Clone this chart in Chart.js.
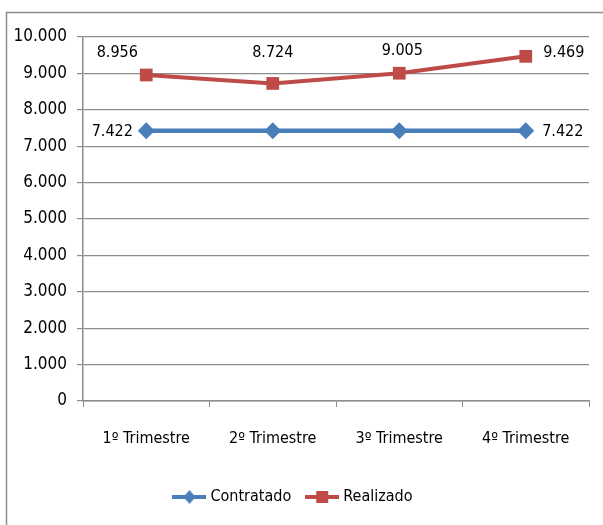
<!DOCTYPE html>
<html>
<head>
<meta charset="utf-8">
<script src="https://cdn.jsdelivr.net/npm/chart.js@4"></script>
<style>
  html, body { margin: 0; padding: 0; background: #fff; }
  #wrap { width: 603px; height: 525px; position: relative; }
</style>
</head>
<body>
<div id="wrap"><canvas id="chart" width="603" height="525"></canvas></div>
<script>
const categories = ["1º Trimestre", "2º Trimestre", "3º Trimestre", "4º Trimestre"];
const contratado = [7422, 7422, 7422, 7422];
const realizado = [8956, 8724, 9005, 9469];
const yTicks = [0, 1000, 2000, 3000, 4000, 5000, 6000, 7000, 8000, 9000, 10000];

const FONT = "'Liberation Sans Narrow', 'DejaVu Sans Condensed', sans-serif";
const BLUE = "#4a7ebb";
const RED = "#be4b48";

// pt-BR style number: 7422 -> 7.422
function fmt(v) {
  return v.toLocaleString("pt-BR");
}

// small legend icon: line with marker in the middle
function legendIcon(color, style) {
  const c = document.createElement("canvas");
  c.width = 34; c.height = 14;
  const g = c.getContext("2d");
  g.strokeStyle = color;
  g.lineWidth = 4;
  g.beginPath(); g.moveTo(0, 7); g.lineTo(34, 7); g.stroke();
  g.fillStyle = color;
  if (style === "rectRot") {
    g.beginPath(); g.moveTo(17, 0); g.lineTo(23, 7); g.lineTo(17, 14); g.lineTo(11, 7); g.closePath(); g.fill();
  } else {
    g.fillRect(11, 1, 12, 12);
  }
  return c;
}

// which labels to show and where (dx, dy from the point)
const labelOffsets = [
  [[-34, 1], null, null, [37, 1]],
  [[-29, -22], [0, -31], [3, -22], [38, -3]]
];

const dataLabels = {
  id: "dataLabels",
  afterDatasetsDraw(chart) {
    const ctx = chart.ctx;
    ctx.save();
    ctx.font = "16px " + FONT;
    ctx.fillStyle = "#000";
    ctx.textAlign = "center";
    ctx.textBaseline = "middle";
    chart.data.datasets.forEach((ds, i) => {
      const meta = chart.getDatasetMeta(i);
      meta.data.forEach((pt, j) => {
        const off = labelOffsets[i][j];
        if (!off) return;
        ctx.fillText(fmt(ds.data[j]), pt.x + off[0], pt.y + off[1]);
      });
    });
    ctx.restore();
  }
};

const frame = {
  id: "frame",
  beforeDraw(chart) {
    const ctx = chart.ctx;
    ctx.save();
    ctx.fillStyle = "#fff";
    ctx.fillRect(0, 0, chart.width, chart.height);
    ctx.strokeStyle = "#8c8c8c";
    ctx.lineWidth = 1.5;
    ctx.strokeRect(6.5, 12.5, 800, 800);
    ctx.restore();
  }
};

new Chart(document.getElementById("chart"), {
  type: "line",
  data: {
    labels: categories,
    datasets: [
      {
        label: "Contratado",
        data: contratado,
        borderColor: BLUE,
        backgroundColor: BLUE,
        borderWidth: 4.5,
        pointStyle: "rectRot",
        pointRadius: 8.5,
        pointBorderWidth: 0,
        tension: 0
      },
      {
        label: "Realizado",
        data: realizado,
        borderColor: RED,
        backgroundColor: RED,
        borderWidth: 4,
        pointStyle: "rect",
        pointRadius: 9,
        pointBorderWidth: 0,
        tension: 0
      }
    ]
  },
  options: {
    responsive: false,
    animation: false,
    layout: { padding: { left: 0, right: 14, top: 37, bottom: 10 } },
    scales: {
      x: {
        offset: true,
        grid: { offset: true, drawOnChartArea: false, drawTicks: true, tickLength: 6, color: "#8c8c8c" },
        border: { color: "#8c8c8c", width: 1.5 },
        ticks: { color: "#000", font: { family: FONT, size: 16 }, padding: 22, maxRotation: 0 },
        afterFit(scale) { scale.height = 70; }
      },
      y: {
        min: 0,
        max: 10000,
        afterBuildTicks(scale) { scale.ticks = yTicks.map(v => ({ value: v })); },
        grid: { color: "#8c8c8c", lineWidth: 1.2, tickLength: 6 },
        border: { color: "#8c8c8c", width: 1.5 },
        ticks: {
          color: "#000",
          font: { family: FONT, size: 17 },
          padding: 10,
          callback: v => fmt(v)
        },
        afterFit(scale) { scale.width = 83; }
      }
    },
    plugins: {
      tooltip: { enabled: false },
      legend: {
        position: "bottom",
        labels: {
          color: "#000",
          font: { family: FONT, size: 16 },
          usePointStyle: true,
          pointStyleWidth: 26,
          padding: 18,
          generateLabels(chart) {
            return chart.data.datasets.map((ds, i) => ({
              text: ds.label,
              pointStyle: legendIcon(ds.borderColor, ds.pointStyle),
              fillStyle: ds.borderColor,
              strokeStyle: ds.borderColor,
              lineWidth: 0,
              hidden: false,
              datasetIndex: i
            }));
          }
        }
      }
    }
  },
  plugins: [frame, dataLabels]
});
</script>
</body>
</html>
